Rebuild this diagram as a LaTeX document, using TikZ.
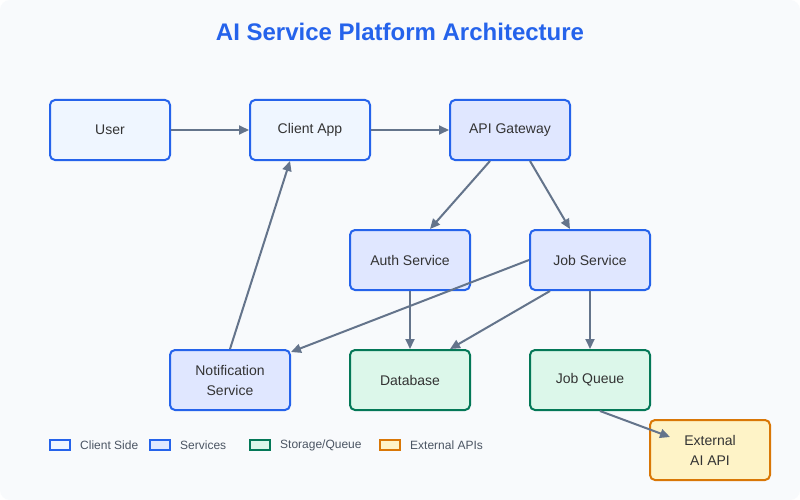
\documentclass[tikz,border=0pt]{standalone}
\usepackage{fontspec}
\setmainfont{Liberation Sans}
\usepackage{tikz}
\usetikzlibrary{calc}
\usetikzlibrary{arrows.meta}
\usetikzlibrary{positioning}
\definecolor{pagebg}{RGB}{248, 250, 252}
\definecolor{royal}{RGB}{37, 99, 235}
\definecolor{clientfill}{RGB}{239, 246, 255}
\definecolor{servicefill}{RGB}{224, 231, 255}
\definecolor{emerald}{RGB}{4, 120, 87}
\definecolor{mint}{RGB}{220, 247, 234}
\definecolor{amber}{RGB}{217, 119, 6}
\definecolor{cream}{RGB}{254, 243, 199}
\definecolor{slate}{RGB}{100, 116, 139}
\definecolor{ink}{RGB}{51, 51, 51}
\definecolor{legendink}{RGB}{75, 85, 99}

\begin{document}
\begin{tikzpicture}[x=1pt, y=-1pt,
        box/.style={rounded corners=5pt, line width=2pt, minimum width=120pt, minimum height=60pt,
                    align=center, text=ink, font=\fontsize{14}{20}\selectfont},
        clientbox/.style={box, draw=royal, fill=clientfill},
        servicebox/.style={box, draw=royal, fill=servicefill},
        storebox/.style={box, draw=emerald, fill=mint},
        extbox/.style={box, draw=amber, fill=cream},
        flow/.style={-{Triangle[length=10pt, width=9pt]}, draw=slate, line width=2pt},
        swatch/.style={line width=2pt, minimum width=20pt, minimum height=10pt, inner sep=0pt},
        legendtext/.style={anchor=west, text=legendink, font=\fontsize{12}{14}\selectfont, inner sep=0pt}]
            \useasboundingbox (0,0) rectangle (800,500);
            \fill[white] (0,0) rectangle (800,500);
            \fill[pagebg, rounded corners=10pt] (0,0) rectangle (800,500);
            \node[text=royal, font=\bfseries\fontsize{24}{28}\selectfont] (title) at (400,32) {AI Service Platform Architecture};

            \node[clientbox]  (user)   at (110,130) {User};
            \node[clientbox]  (client) at (310,130) {Client App};
            \node[servicebox] (api)    at (510,130) {API Gateway};
            \node[servicebox] (auth)   at (410,260) {Auth Service};
            \node[servicebox] (job)    at (590,260) {Job Service};
            \node[servicebox] (notify) at (230,380) {Notification\\Service};
            \node[storebox]   (db)     at (410,380) {Database};
            \node[storebox]   (queue)  at (590,380) {Job Queue};
            \node[extbox]     (ext)    at (710,450) {External\\AI API};
            \coordinate (extin) at ($(ext.north)+(-40,18)$);

            \draw[flow] (user) -- (client);
            \draw[flow] (client) -- (api);
            \draw[flow] ([xshift=-20pt]api.south) -- ([xshift=20pt]auth.north);
            \draw[flow] ([xshift=20pt]api.south) -- ([xshift=-20pt]job.north);
            \draw[flow] (auth) -- (db);
            \draw[flow] ([xshift=-40pt]job.south) -- ([xshift=40pt]db.north);
            \draw[flow] (job.west) -- ([yshift=-3pt]notify.north east);
            \draw[flow] (job) -- (queue);
            \draw[flow] (notify.north) -- ([xshift=-20pt]client.south);
            \draw[flow] ([xshift=10pt]queue.south) -- (extin);

            \node[swatch, draw=royal, fill=clientfill]    (keyclient)  at (60,445) {};
            \node[legendtext] (keyclienttxt)  at (80,445) {Client Side};
            \node[swatch, draw=royal, fill=servicefill]   (keyservice) at (160,445) {};
            \node[legendtext] (keyservicetxt) at (180,445) {Services};
            \node[swatch, draw=emerald, fill=mint]        (keystore)   at (260,445) {};
            \node[legendtext] (keystoretxt)   at (280,445) {Storage/Queue};
            \node[swatch, draw=amber, fill=cream]         (keyext)     at (390,445) {};
            \node[legendtext] (keyexttxt)     at (410,445) {External APIs};
        \end{tikzpicture}
\end{document}
